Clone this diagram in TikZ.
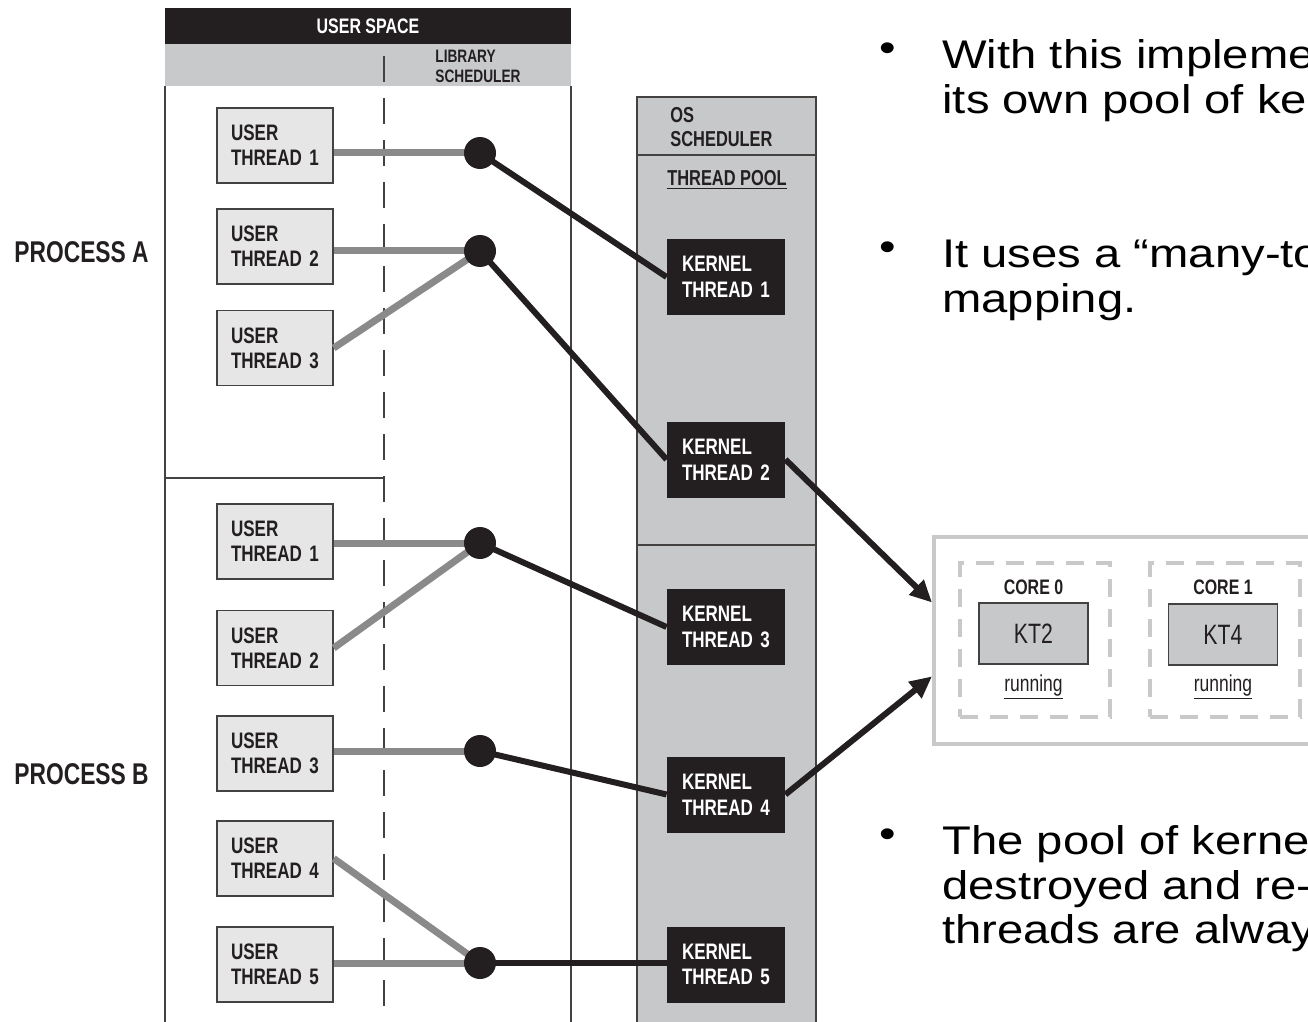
\documentclass[tikz,border=0pt]{standalone}
\usepackage{fontspec}
\setmainfont{Liberation Sans}
\newfontfamily\narrowfont[FakeStretch=0.76]{Liberation Sans}
\newfontfamily\slidefont[FakeStretch=1.18]{Liberation Sans}
\usepackage{xcolor}
\usetikzlibrary{calc, arrows.meta}

\definecolor{ink}{HTML}{231F20}
\definecolor{band}{HTML}{C8C9CB}
\definecolor{pool}{HTML}{C7C8CA}
\definecolor{ubox}{HTML}{E6E6E6}
\definecolor{glink}{HTML}{8A8A8A}
\definecolor{corefr}{HTML}{C9C9C9}

\tikzset{
	frame/.style = {draw = ink!85, line width = 0.7pt},
	uthread/.style = {frame, fill = ubox, minimum width = 58pt, minimum height = 37.5pt, text width = 44pt, inner xsep = 7pt, align = left, text = ink, font = \narrowfont\bfseries\fontsize{11.2pt}{12.6pt}\selectfont},
	kthread/.style = {fill = ink, minimum width = 59pt, minimum height = 38pt, text width = 44pt, inner xsep = 7.5pt, align = left, text = white, font = \narrowfont\bfseries\fontsize{11.2pt}{12.8pt}\selectfont},
	ulink/.style = {draw = glink, line width = 3.5pt},
	klink/.style = {draw = ink, line width = 3pt},
	label/.style = {text = ink, font = \narrowfont\bfseries\fontsize{9pt}{10pt}\selectfont, align = left},
	core/.style = {draw = corefr, line width = 2pt, dash pattern = on 9pt off 6pt, minimum width = 75pt, minimum height = 77pt, anchor = north west},
	ktbox/.style = {frame, fill = pool, minimum width = 54.5pt, minimum height = 30.5pt, text = ink, font = \narrowfont\fontsize{14pt}{16pt}\selectfont},
	slide/.style = {anchor = base west, inner sep = 0, font = \slidefont\fontsize{20pt}{22.5pt}\selectfont},
	dot/.style = {anchor = base, inner sep = 0, font = \slidefont\fontsize{20pt}{22.5pt}\selectfont}
}

\begin{document}
\begin{tikzpicture}[x = 0.5pt, y = -0.5pt]
	\useasboundingbox (0,0) rectangle (1308,1022);
	\clip (0,0) rectangle (1308,1022);
	
	\fill [ink] (165,8) rectangle (571,44);
	\fill [band] (165,44) rectangle (571,86);
	\draw [frame] (165,86) -- (165,1030);
	\draw [frame] (571,86) -- (571,1030);
	\draw [frame, dash pattern = on 13pt off 8pt] (384,56) -- (384,1030);
	\draw [frame] (165,478) -- (384,478);
	
	\node [text = white, font = \narrowfont\bfseries\fontsize{10.5pt}{12pt}\selectfont] (usp) at (368,26) {USER SPACE};
	\node [label, anchor = west, inner sep = 0] (lib) at (435,66) {LIBRARY\\SCHEDULER};
	
	\node [label, anchor = base west, inner sep = 0, font = \narrowfont\bfseries\fontsize{15pt}{17pt}\selectfont] (pa) at (14,263) {PROCESS A};
	\node [label, anchor = base west, inner sep = 0, font = \narrowfont\bfseries\fontsize{15pt}{17pt}\selectfont] (pb) at (14,784) {PROCESS B};
	
	\draw [frame, fill = pool] (637,97) rectangle (816,1030);
	\draw [frame] (637,155) -- (816,155);
	\draw [frame] (637,545) -- (816,545);
	\node [label, anchor = west, inner sep = 0, font = \narrowfont\bfseries\fontsize{10.8pt}{12.2pt}\selectfont] (os) at (670,127) {OS\\SCHEDULER};
	\node [label, anchor = base, inner sep = 0, font = \narrowfont\bfseries\fontsize{10.8pt}{12.2pt}\selectfont] (tp) at (727,185) {\underline{THREAD POOL}};
	
	\foreach \n/\k/\y in {a1/1/145.5, a2/2/246.5, a3/3/348, b1/1/541.5, b2/2/648, b3/3/753.5, b4/4/858.5, b5/5/964.5}
		\node [uthread] (u\n) at (275,\y) {USER\\THREAD \k};
	
	\foreach \k/\y in {1/277, 2/459.5, 3/627, 4/794.5, 5/964.5}
		\node [kthread] (kt\k) at (726,\y) {KERNEL\\THREAD \k};
	
	\foreach \h/\y in {a1/153, a2/251, b1/543, b3/751, b5/963}
		\coordinate (h\h) at (480,\y);
	
	\foreach \h in {a1, a2, b1, b3, b5}
		\draw [ulink] (h\h -| u\h.east) -- (h\h);
	\draw [ulink] (ua3.east) -- (ha2);
	\draw [ulink] (ub2.east) -- (hb1);
	\draw [ulink] (ub4.east) -- (hb5);
	
	\foreach \h/\k in {a1/1, a2/2, b1/3, b3/4}
		\draw [klink] (h\h) -- (kt\k.west);
	\draw [klink] (hb5) -- (hb5 -| kt5.west);
	
	\foreach \h in {a1, a2, b1, b3, b5}
		\fill [ink] (h\h) circle [radius = 8pt];
	
	% cores
	\node [draw = corefr, line width = 2pt, minimum width = 206pt, minimum height = 103.5pt, anchor = north west] (cores) at (932,535) {};
	\node [core] (core0) at (958,561) {};
	\node [core] (core1) at (1148,561) {};
	\node [label, anchor = base, inner sep = 0, font = \narrowfont\bfseries\fontsize{10.5pt}{12pt}\selectfont] (c0) at (1033.5,594) {CORE 0};
	\node [label, anchor = base, inner sep = 0, font = \narrowfont\bfseries\fontsize{10.5pt}{12pt}\selectfont] (c1) at (1223,594) {CORE 1};
	\node [ktbox] (kt2b) at (1033.5,633.5) {KT2};
	\node [ktbox] (kt4b) at (1223,634.5) {KT4};
	\node [anchor = base, inner sep = 0, text = ink, font = \narrowfont\fontsize{11.5pt}{13pt}\selectfont] (r0) at (1033.5,691) {\underline{running}};
	\node [anchor = base, inner sep = 0, text = ink, font = \narrowfont\fontsize{11.5pt}{13pt}\selectfont] (r1) at (1223,691) {\underline{running}};
	
	\coordinate (in0) at ($(cores.north west)!0.32!(cores.south west)$);
	\coordinate (in1) at ($(cores.north west)!0.67!(cores.south west)$);
	\draw [klink, -{Triangle[length = 11pt, width = 10pt]}] (kt2.east) -- (in0);
	\draw [klink, -{Triangle[length = 11pt, width = 10pt]}] (kt4.east) -- (in1);
	
	% bullets
	\node [dot] (d1) at (888,62) {\textbullet};
	\node [slide] (t11) at (942,69) {With this impleme};
	\node [slide] (t12) at (942,114) {its own pool of ke};
	\node [dot] (d2) at (888,261) {\textbullet};
	\node [slide] (t21) at (942,268) {It uses a “many-to};
	\node [slide] (t22) at (942,313) {mapping.};
	\node [dot] (d3) at (888,847) {\textbullet};
	\node [slide] (t31) at (942,854) {The pool of kerne};
	\node [slide] (t32) at (942,899) {destroyed and re-};
	\node [slide] (t33) at (942,943) {threads are alway};
\end{tikzpicture}
\end{document}
